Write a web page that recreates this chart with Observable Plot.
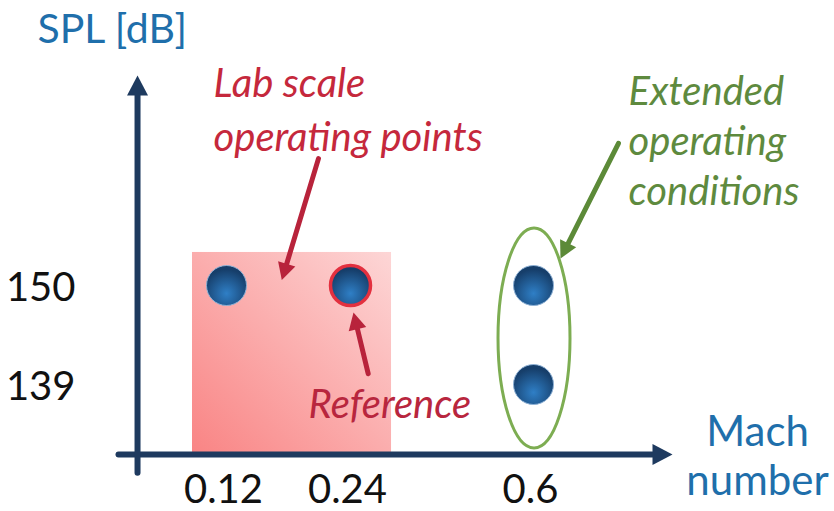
<!DOCTYPE html>
<html><head><meta charset="utf-8">
<script src="https://cdn.jsdelivr.net/npm/d3@7"></script>
<script src="https://cdn.jsdelivr.net/npm/@observablehq/plot@0.6"></script>
<style>body{margin:0;background:#fff} svg{display:block}</style>
</head><body><div id="chart"></div>
<script>
// ---- data ----
const machTicks = [0.12, 0.24, 0.6];
const machTickLabels = ["0.12", "0.24", "0.6"];
const splTicks = [150, 139];
const splTickLabels = ["150", "139"];
const opMach = [0.12, 0.24, 0.6, 0.6];
const opSpl = [150, 150, 150, 139];
const opIsReference = [false, true, false, false];

// annotation anchors (data units)
const labRegion = {m1: 0.0871, m2: 0.3207, s1: 131.2, s2: 153.67};
const extendedCenter = {m: 0.601, s: 144.17};
const axisLines = [
  {m1: 0.0155, s1: 131.22, m2: 0.8735, s2: 131.22},
  {m1: 0.0339, s1: 129.2, m2: 0.0339, s2: 173.33}
];
const pointerArrows = [
  {m1: 0.209, s1: 164.1, m2: 0.1735, s2: 150.6, c: "#b8233b"},
  {m1: 0.2748, s1: 140.2, m2: 0.2459, s2: 147.0, c: "#b8233b"},
  {m1: 0.7672, s1: 165.8, m2: 0.6531, s2: 153.0, c: "#5c8a38"}
];
const labels = [
  {t: "Lab scale\noperating points", m: 0.1074, s: 165.0, c: "#c5283c", a: "start", italic: true, lh: 1.35, fs: 40},
  {t: "Reference", m: 0.1994, s: 135.33, c: "#b8263e", a: "start", italic: true, lh: 1.2, fs: 40},
  {t: "Extended\noperating\nconditions", m: 0.7869, s: 159.0, c: "#5e8a3e", a: "start", italic: true, lh: 1.25, fs: 40},
  {t: "SPL [dB]", m: -0.0629, s: 177.0, c: "#1f6fab", a: "start", italic: false, lh: 1.2, fs: 41},
  {t: "Mach\nnumber", m: 1.0407, s: 126.67, c: "#1f6fab", a: "middle", italic: false, lh: 1.19, fs: 42}
];

const points = opMach.map((m, i) => ({m, s: opSpl[i], ref: opIsReference[i]}));
const xTickData = machTicks.map((m, i) => ({m, label: machTickLabels[i]}));
const yTickData = splTicks.map((s, i) => ({s, label: splTickLabels[i]}));

const xOpts = {type: "linear", domain: [0.12, 0.24, 0.6], range: [226, 350, 533], axis: null};
const yOpts = {type: "linear", domain: [139, 150], range: [384, 285], axis: null};
const sx = Plot.scale({x: xOpts}), sy = Plot.scale({y: yOpts});
const angleOf = a => Math.atan2(sx.apply(a.m2) - sx.apply(a.m1), -(sy.apply(a.s2) - sy.apply(a.s1))) * 180 / Math.PI;

const head = (w, L) => ({draw(ctx) { ctx.moveTo(0, 0); ctx.lineTo(-w / 2, L); ctx.lineTo(w / 2, L); ctx.closePath(); }});
const ellipse = {draw(ctx) {
  const rx = 36, ry = 110, k = 0.5523;
  ctx.moveTo(rx, 0);
  ctx.bezierCurveTo(rx, k * ry, k * rx, ry, 0, ry);
  ctx.bezierCurveTo(-k * rx, ry, -rx, k * ry, -rx, 0);
  ctx.bezierCurveTo(-rx, -k * ry, -k * rx, -ry, 0, -ry);
  ctx.bezierCurveTo(k * rx, -ry, rx, -k * ry, rx, 0);
  ctx.closePath();
}};

const navy = "#1e3a5f";
const font = "Lato, 'Open Sans', sans-serif";

const chart = Plot.plot({
  width: 834, height: 511,
  margin: 0,
  style: {fontFamily: font, background: "#fff"},
  x: xOpts,
  y: yOpts,
  marks: [
    Plot.rect([labRegion], {x1: "m1", x2: "m2", y1: "s1", y2: "s2", fill: "url(#labGrad)"}),
    Plot.dot([extendedCenter], {x: "m", y: "s", symbol: ellipse, r: 10, fill: "none", stroke: "#7dad52", strokeWidth: 3}),
    // pointer arrows
    Plot.arrow(pointerArrows, {x1: "m1", y1: "s1", x2: "m2", y2: "s2", stroke: "c", strokeWidth: 5, headLength: 0, insetEnd: 10}),
    Plot.dot(pointerArrows, {x: "m2", y: "s2", symbol: head(18, 17), rotate: angleOf, fill: "c", r: 5}),
    // axes
    Plot.arrow(axisLines, {x1: "m1", y1: "s1", x2: "m2", y2: "s2", stroke: navy, strokeWidth: 6, headLength: 0, insetEnd: 12}),
    Plot.dot(axisLines, {x: "m2", y: "s2", symbol: head(21, 20), rotate: angleOf, fill: navy, r: 5}),
    // operating points
    Plot.dot(points, {x: "m", y: "s", r: 20, fill: "url(#dotGrad)", stroke: d => d.ref ? "#e3303f" : "#8fb2d6", strokeWidth: d => d.ref ? 3.5 : 1}),
    // tick labels
    Plot.text(xTickData, {x: "m", y: 125.8, text: "label", dx: -3, fontSize: 40, fill: "#111", lineAnchor: "bottom"}),
    Plot.text(yTickData, {x: -0.0261, y: "s", text: "label", dy: 3, fontSize: 40, fill: "#111", textAnchor: "end"}),
    // labels
    ...labels.map(l => Plot.text([l], {x: "m", y: "s", text: "t", fill: l.c, textAnchor: l.a, lineAnchor: "bottom",
      fontSize: l.fs, fontStyle: l.italic ? "italic" : "normal", lineHeight: l.lh}))
  ]
});

const defs = d3.create("svg:defs");
const lg = defs.append("linearGradient").attr("id", "labGrad").attr("x1", 0).attr("y1", 1).attr("x2", 1).attr("y2", 0);
lg.append("stop").attr("offset", "0%").attr("stop-color", "#f98484");
lg.append("stop").attr("offset", "100%").attr("stop-color", "#fdd6d6");
const rg = defs.append("radialGradient").attr("id", "dotGrad").attr("cx", "50%").attr("cy", "70%").attr("r", "60%");
rg.append("stop").attr("offset", "0%").attr("stop-color", "#2f7fc6");
rg.append("stop").attr("offset", "100%").attr("stop-color", "#163e6a");
chart.insertBefore(defs.node(), chart.firstChild);
document.getElementById("chart").appendChild(chart);
</script>
</body></html>
